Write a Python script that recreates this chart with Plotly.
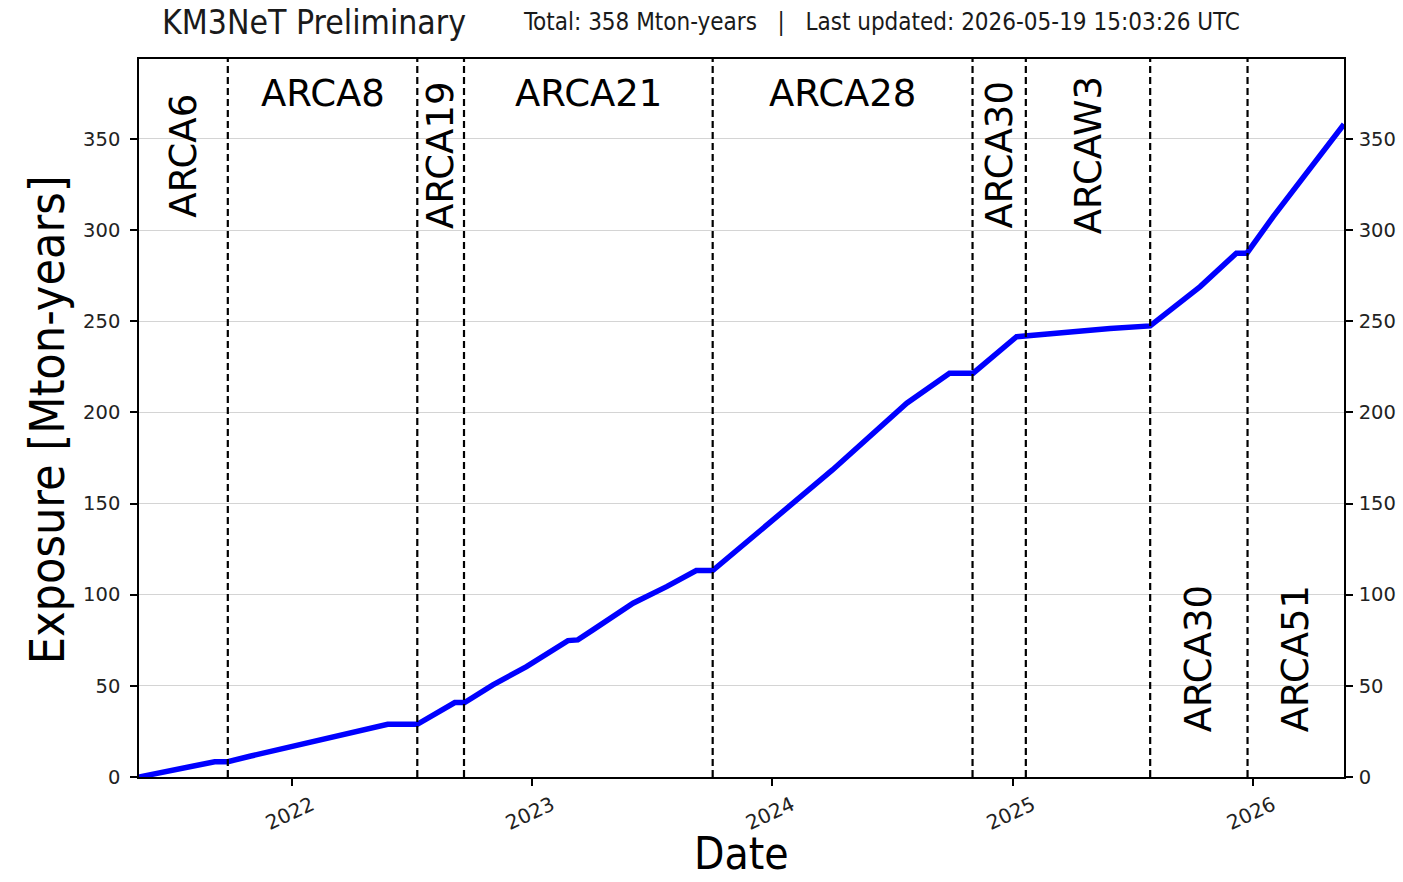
import plotly.graph_objects as go
import pandas as pd

# ---- data ----
dates = ["2021-05-14", "2021-09-06", "2021-09-26", "2021-10-31", "2022-05-27", "2022-07-11",
         "2022-09-06", "2022-09-21", "2022-11-03", "2022-12-01", "2022-12-24", "2023-02-25",
         "2023-03-12", "2023-04-04", "2023-06-04", "2023-07-25", "2023-09-08", "2023-10-03",
         "2023-11-28", "2024-04-02", "2024-07-24", "2024-09-02", "2024-09-27", "2024-11-02",
         "2025-01-07", "2025-05-29", "2025-07-24", "2025-07-29", "2025-10-13", "2025-12-07",
         "2025-12-23", "2026-02-01", "2026-05-19 15:03:26"]
exposure = [0, 8.4, 8.4, 11.5, 28.9, 28.9,
            40.8, 40.8, 50.5, 56.0, 60.5, 74.8,
            75.2, 80.7, 95.3, 104.4, 113.2, 113.2,
            130.0, 168.4, 205.0, 215.0, 221.5, 221.5,
            241.5, 246.0, 247.0, 247.4, 269.0, 287.3,
            287.3, 307.4, 358.0]

boundaries = ["2021-09-26", "2022-07-11", "2022-09-20", "2023-10-03", "2024-11-01",
              "2025-01-21", "2025-07-29", "2025-12-24"]
period_names = ["ARCA6", "ARCA8", "ARCA19", "ARCA21", "ARCA28", "ARCA30", "ARCAW3", "ARCA30", "ARCA51"]
period_vertical = [True, False, True, False, False, True, True, True, True]
period_upper = [True, True, True, True, True, True, True, False, False]

y_ticks = [0, 50, 100, 150, 200, 250, 300, 350]
x_ticks = ["2022-01-01", "2023-01-01", "2024-01-01", "2025-01-01", "2026-01-01"]
x_tick_labels = ["2022", "2023", "2024", "2025", "2026"]

total = 358
updated = "2026-05-19 15:03:26 UTC"

# ---- figure ----
ymax = 1.1 * max(exposure)
dt = pd.to_datetime(dates, format="mixed")
edges = [dt[0]] + list(pd.to_datetime(boundaries)) + [dt[-1]]

FONT = "DejaVu Sans"
COND = "DejaVu Sans Condensed, DejaVu Sans"

fig = go.Figure()
fig.add_trace(go.Scatter(x=dt, y=exposure, mode="lines",
                         line=dict(color="#0000ff", width=5.5), showlegend=False,
                         hoverinfo="skip"))
fig.add_trace(go.Scatter(x=[dt[0], dt[-1]], y=[0, ymax], mode="markers", yaxis="y2",
                         marker=dict(opacity=0), showlegend=False, hoverinfo="skip"))

shapes = []
for b in boundaries:
    shapes.append(dict(type="line", xref="x", yref="paper", x0=b, x1=b, y0=0, y1=1,
                       line=dict(color="black", width=2.2, dash="7px,4px"), layer="above"))

annotations = []
for i, name in enumerate(period_names):
    mid = edges[i] + (edges[i + 1] - edges[i]) / 2
    if period_vertical[i]:
        yv = 341 if period_upper[i] else 65
        ang = -90
    else:
        yv = 375
        ang = 0
    annotations.append(dict(x=mid, y=yv, xref="x", yref="y", text=name, showarrow=False,
                            textangle=ang, xanchor="center", yanchor="middle",
                            font=dict(family=FONT, size=37, color="black")))

annotations.append(dict(x=0.1455, y=1.0515, xref="paper", yref="paper",
                        text="KM3NeT Preliminary", showarrow=False,
                        xanchor="center", yanchor="middle",
                        font=dict(family=COND, size=33.5, color="#1a1a1a")))
annotations.append(dict(x=0.317, y=1.0515, xref="paper", yref="paper",
                        text=f"Total: {total} Mton-years   |   Last updated: {updated}",
                        showarrow=False, xanchor="left", yanchor="middle",
                        font=dict(family=COND, size=24, color="#1a1a1a")))
annotations.append(dict(x=0.5, y=-0.1455, xref="paper", yref="paper", text="Date",
                        showarrow=False, xanchor="center", yanchor="bottom",
                        font=dict(family=COND, size=44, color="black")))
annotations.append(dict(x=-0.0763, y=0.497, xref="paper", yref="paper",
                        text="Exposure [Mton-years]", showarrow=False, textangle=-90,
                        xanchor="center", yanchor="middle",
                        font=dict(family=COND, size=48, color="black")))

axis_common = dict(showline=True, linecolor="black", linewidth=1.5, ticks="outside",
                   ticklen=7, tickwidth=1.5, tickcolor="black", automargin=False)

fig.update_layout(
    width=1403, height=882,
    margin=dict(l=139, r=59, t=59, b=105, autoexpand=False),
    plot_bgcolor="white", paper_bgcolor="white",
    shapes=shapes, annotations=annotations,
    xaxis=dict(range=[dt[0], dt[-1]], tickvals=pd.to_datetime(x_ticks), ticktext=x_tick_labels,
               tickangle=-25, ticklabelshift=20, showgrid=False, mirror=True, zeroline=False,
               tickfont=dict(family=FONT, size=20, color="#222222"), **axis_common),
    yaxis=dict(range=[0, ymax], tickvals=y_ticks, showgrid=True, gridcolor="#d4d4d4",
               gridwidth=1, zeroline=False, mirror=True, ticklabelstandoff=6,
               tickfont=dict(family=FONT, size=19.5, color="#222222"), **axis_common),
    yaxis2=dict(range=[0, ymax], tickvals=y_ticks, overlaying="y", side="right",
                showgrid=False, zeroline=False, ticklabelstandoff=2,
                tickfont=dict(family=FONT, size=19.5, color="#222222"), **axis_common),
)

fig.write_html("out.html")
